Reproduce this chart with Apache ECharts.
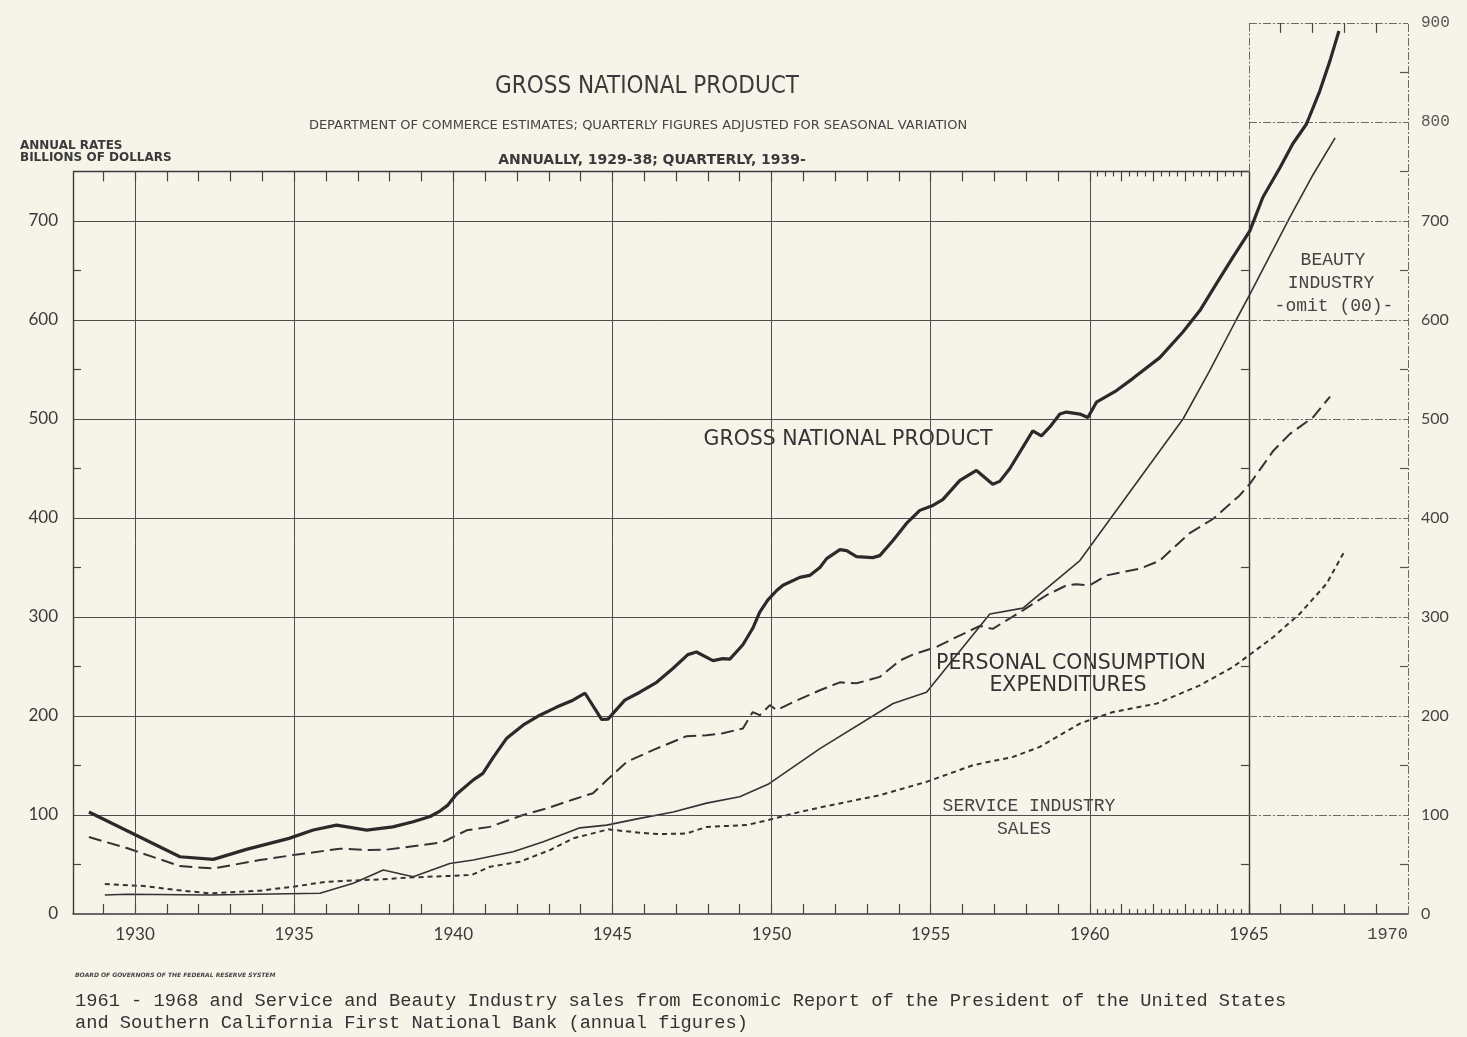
<!DOCTYPE html>
<html><head><meta charset="utf-8">
<script src="https://cdn.jsdelivr.net/npm/echarts@6/dist/echarts.min.js"></script>
<style>html,body{margin:0;padding:0;background:#f6f3e9}#c{width:1467px;height:1037px}</style>
</head><body><div id="c"></div>
<script>
// ---- data: [year as plotted, billions of dollars] ----
const gnpData = [[1928.55,103],[1929.94,81],[1931.41,57.8],[1932.46,55.2],[1933.5,65.3],[1934.84,76.4],[1935.6,84.8],[1936.33,89.8],[1937.28,84.8],[1938.1,88],[1938.74,93.2],[1939.27,98.5],[1939.58,104],[1939.83,110],[1940.1,121],[1940.63,135.5],[1940.93,142],[1941.25,158],[1941.68,177.6],[1942.19,190.7],[1942.72,200.8],[1943.25,209],[1943.76,216],[1944.14,223],[1944.66,196.5],[1944.86,196.8],[1945.39,216],[1945.86,224],[1946.39,234],[1946.9,248],[1947.37,262],[1947.64,264.6],[1948.16,256],[1948.47,258],[1948.69,257.5],[1949.1,272],[1949.41,288.6],[1949.63,305],[1949.88,317],[1950.17,327],[1950.36,332],[1950.89,340],[1951.2,342],[1951.52,350],[1951.73,359],[1952.15,368],[1952.36,367],[1952.67,361],[1953.18,360],[1953.4,362],[1953.81,377],[1954.24,394.5],[1954.66,407.7],[1955.07,412.7],[1955.38,418.5],[1955.92,438],[1956.44,448],[1956.95,434],[1957.17,437],[1957.49,450],[1958.21,488],[1958.48,483],[1958.74,491.7],[1959.06,505],[1959.27,507],[1959.69,505],[1959.94,501.5],[1960.21,517],[1960.84,528.7],[1961.35,540.8],[1962.2,562],[1962.92,587.6],[1963.46,609.5],[1963.98,636.7],[1964.49,663],[1965.03,690],[1965.44,724],[1965.98,754],[1966.38,778],[1966.81,798],[1967.23,831.5],[1967.55,862],[1967.83,892]];
const pceData = [[1928.55,77.7],[1929.74,66.6],[1931.41,48.4],[1932.46,46],[1933.92,54.5],[1934.97,59.5],[1936.44,66],[1937.28,64.6],[1937.9,65],[1939.58,72],[1939.79,74.5],[1940.42,84.5],[1941.15,88],[1942.19,100],[1942.93,106.6],[1943.77,115.7],[1944.39,122],[1944.82,135],[1945.45,153.7],[1946.27,165.5],[1947.33,179.6],[1947.96,180.6],[1948.47,182.6],[1949.1,187.4],[1949.41,204],[1949.63,200.8],[1949.95,211],[1950.16,206],[1950.68,214],[1951.52,226],[1952.15,234],[1952.67,233],[1953.4,239.5],[1954.03,256],[1954.44,262],[1955.2,270],[1955.7,278],[1956.55,291],[1956.95,288],[1957.9,306.7],[1958.64,322],[1959.27,332],[1959.58,333],[1960.0,332],[1960.53,342],[1961.6,349],[1962.2,357],[1963.14,384.8],[1963.87,399],[1964.71,422.8],[1965.03,434.5],[1965.77,468],[1966.29,485],[1967.02,501.8],[1967.55,522.7]];
const beautyData = [[1929.05,19.2],[1929.74,19.9],[1932.35,19.2],[1935.81,20.9],[1936.86,31],[1937.8,44.4],[1938.74,37.6],[1939.89,51],[1940.63,54.5],[1941.88,62.9],[1942.83,73],[1943.98,87],[1944.82,89.8],[1945.86,96.6],[1946.91,103],[1947.96,112],[1949.0,118.4],[1949.89,131],[1951.52,167],[1953.82,212.6],[1954.87,224],[1956.86,303],[1957.9,309],[1959.69,357],[1962.93,500],[1963.74,547],[1964.6,600],[1965.03,626],[1966.29,704],[1967.02,747],[1967.71,784]];
const serviceData = [[1929.05,30.3],[1930.26,28.3],[1931.31,24.2],[1932.35,20.9],[1933.92,23.5],[1934.97,27.6],[1936.02,32.6],[1937.7,35],[1938.74,37],[1939.89,38.5],[1940.58,39.4],[1941.15,47.7],[1942.09,52.8],[1943.04,64.6],[1943.77,76.4],[1944.87,85.5],[1945.86,82],[1946.49,80.7],[1947.33,81.3],[1947.96,88],[1949.22,89.8],[1949.89,94.9],[1950.68,101.5],[1951.52,107.6],[1953.4,120],[1954.87,133.5],[1956.34,150.4],[1957.59,158.7],[1958.43,168.8],[1959.69,192.4],[1960.73,204],[1962.1,212.5],[1963.46,231],[1964.5,249.5],[1964.93,259.6],[1965.77,279.8],[1966.6,303.3],[1967.44,333.6],[1967.99,365.6]];

// ---- tick labels ----
const xTickLabels = [1930,1935,1940,1945,1950,1955,1960,1965,1970];
const yLeftLabels = [0,100,200,300,400,500,600,700];
const yRightLabels = [0,100,200,300,400,500,600,700,800,900];
const yearTicks = [];
for (let y = 1929; y <= 1969; y++) yearTicks.push(y);
const quarterTicks = [];
for (let q = 1960.25; q < 1965; q += 0.25) if (q % 1 !== 0) quarterTicks.push(q);
const halfTicksLeft = [50,150,250,350,450,550,650];
const halfTicksRight = [50,150,250,350,450,550,650,750,850];

// ---- frame geometry (axis values) ----
const X_MIN = 1928.05, SPLIT = 1965, X_MAX = 1970, MAIN_TOP = 750, EXT_TOP = 900;

const INK = '#333';
const gridStyle = {color:'#4e4e4e', width:1, type:'solid'};
const frameStyle = {color:'#3a3a3a', width:1.4, type:'solid'};
const extStyle = {color:'#6a6a6a', width:1, type:[8,2,2,2]};
const tickStyle = {color:'#444', width:1.2, type:'solid'};

function seg(x1,y1,x2,y2,style){ return [{coord:[x1,y1], lineStyle:style},{coord:[x2,y2]}]; }
const frame = [];
yLeftLabels.filter(v => v > 0).forEach(v => frame.push(seg(X_MIN,v,SPLIT,v,gridStyle)));
xTickLabels.filter(v => v < SPLIT).forEach(v => frame.push(seg(v,0,v,MAIN_TOP,gridStyle)));
frame.push(seg(X_MIN,MAIN_TOP,SPLIT,MAIN_TOP,frameStyle));
frame.push(seg(X_MIN,0,X_MIN,MAIN_TOP,frameStyle));
frame.push(seg(SPLIT,0,SPLIT,MAIN_TOP,frameStyle));
frame.push(seg(SPLIT,MAIN_TOP,SPLIT,EXT_TOP,extStyle));
yRightLabels.filter(v => v > 0 && v < EXT_TOP).forEach(v => frame.push(seg(SPLIT,v,X_MAX,v,extStyle)));
frame.push(seg(SPLIT,EXT_TOP,X_MAX,EXT_TOP,extStyle));
frame.push(seg(X_MAX,0,X_MAX,EXT_TOP,extStyle));
// tick marks on the top of the main frame, on the 1965 edge and on the top of the extension
yearTicks.filter(y => y < SPLIT).forEach(y => frame.push(seg(y,MAIN_TOP,y,MAIN_TOP-10,tickStyle)));
quarterTicks.forEach(q => { frame.push(seg(q,MAIN_TOP,q,MAIN_TOP-5,tickStyle)); frame.push(seg(q,0,q,5,tickStyle)); });
halfTicksLeft.concat([750]).forEach(v => frame.push(seg(SPLIT-0.25,v,SPLIT,v,tickStyle)));
yearTicks.filter(y => y > SPLIT).forEach(y => frame.push(seg(y,EXT_TOP,y,EXT_TOP-10,tickStyle)));

const SANS = 'Lato, "DejaVu Sans", sans-serif';
const MONO = '"Liberation Mono", "DejaVu Sans Mono", monospace';

const chart = echarts.init(document.getElementById('c'), null, {renderer:'canvas'});
chart.setOption({
  backgroundColor:'#f6f3e9',
  animation:false,
  grid:{left:73, right:59, top:23, bottom:123, containLabel:false},
  xAxis:{
    type:'value', min:X_MIN, max:X_MAX,
    axisLine:{show:true, lineStyle:{color:'#3a3a3a', width:1.5}},
    splitLine:{show:false},
    axisTick:{show:true, inside:true, length:10, customValues:yearTicks, lineStyle:{color:'#444', width:1.2}},
    axisLabel:{customValues:xTickLabels, margin:12, color:'#3a3a3a', fontFamily:SANS, fontSize:17,
      alignMaxLabel:'right',
      formatter: v => v === 1970 ? '{tw|' + v + '}' : String(v),
      rich:{tw:{fontFamily:MONO, fontSize:17, color:'#444'}}}
  },
  yAxis:[{
    type:'value', min:0, max:EXT_TOP, position:'left',
    axisLine:{show:false}, splitLine:{show:false},
    axisTick:{show:true, inside:true, length:8, customValues:halfTicksLeft, lineStyle:{color:'#444', width:1.2}},
    axisLabel:{customValues:yLeftLabels, margin:15, color:'#3a3a3a', fontFamily:SANS, fontSize:17}
  },{
    type:'value', min:0, max:EXT_TOP, position:'right',
    axisLine:{show:false}, splitLine:{show:false},
    axisTick:{show:true, inside:true, length:8, customValues:halfTicksRight, lineStyle:{color:'#555', width:1.2}},
    axisLabel:{customValues:yRightLabels, margin:13, color:'#444', fontFamily:SANS, fontSize:16,
      formatter: v => v >= 800 ? '{tw|' + v + '}' : String(v),
      rich:{tw:{fontFamily:MONO, fontSize:16, color:'#555'}}}
  }],
  series:[
    {type:'line', name:'frame', data:[], silent:true,
     markLine:{silent:true, symbol:['none','none'], label:{show:false}, emphasis:{disabled:true}, animation:false, data:frame}},
    {type:'line', name:'Service Industry Sales', data:serviceData, symbol:'none', z:4,
     lineStyle:{color:INK, width:2, type:[5,4]}},
    {type:'line', name:'Beauty Industry', data:beautyData, symbol:'none', z:4,
     lineStyle:{color:INK, width:1.6}},
    {type:'line', name:'Personal Consumption Expenditures', data:pceData, symbol:'none', z:4,
     lineStyle:{color:INK, width:2, type:[13,6]}},
    {type:'line', name:'Gross National Product', data:gnpData, symbol:'none', z:5,
     lineStyle:{color:'#2a2a2a', width:3.2}}
  ],
  graphic:[
    {type:'text', x:647, y:87, style:{text:'GROSS NATIONAL PRODUCT', font:'24px "DejaVu Sans Condensed", "Liberation Sans Narrow", sans-serif', fill:'#3a3a3a', align:'center', verticalAlign:'middle'}},
    {type:'text', x:638, y:126, style:{text:'DEPARTMENT OF COMMERCE ESTIMATES; QUARTERLY FIGURES ADJUSTED FOR SEASONAL VARIATION', font:'13px "DejaVu Sans", sans-serif', fill:'#444', align:'center', verticalAlign:'middle'}},
    {type:'text', x:20, y:146, style:{text:'ANNUAL RATES', font:'bold 12px "DejaVu Sans", sans-serif', fill:'#3a3a3a', align:'left', verticalAlign:'middle'}},
    {type:'text', x:20, y:158, style:{text:'BILLIONS OF DOLLARS', font:'bold 12px "DejaVu Sans", sans-serif', fill:'#3a3a3a', align:'left', verticalAlign:'middle'}},
    {type:'text', x:652, y:160, style:{text:'ANNUALLY, 1929-38; QUARTERLY, 1939-', font:'bold 14px "DejaVu Sans", sans-serif', fill:'#3a3a3a', align:'center', verticalAlign:'middle'}},
    {type:'text', x:848, y:440, style:{text:'GROSS NATIONAL PRODUCT', font:'20.5px "DejaVu Sans", sans-serif', fill:'#333', align:'center', verticalAlign:'middle'}},
    {type:'text', x:1071, y:664, style:{text:'PERSONAL CONSUMPTION', font:'20.5px "DejaVu Sans", sans-serif', fill:'#333', align:'center', verticalAlign:'middle'}},
    {type:'text', x:1068, y:686, style:{text:'EXPENDITURES', font:'20.5px "DejaVu Sans", sans-serif', fill:'#333', align:'center', verticalAlign:'middle'}},
    {type:'text', x:1029, y:806, style:{text:'SERVICE INDUSTRY', font:'18px ' + MONO, fill:'#444', align:'center', verticalAlign:'middle'}},
    {type:'text', x:1024, y:829, style:{text:'SALES', font:'18px ' + MONO, fill:'#444', align:'center', verticalAlign:'middle'}},
    {type:'text', x:1333, y:260, style:{text:'BEAUTY', font:'18px ' + MONO, fill:'#444', align:'center', verticalAlign:'middle'}},
    {type:'text', x:1331, y:283, style:{text:'INDUSTRY', font:'18px ' + MONO, fill:'#444', align:'center', verticalAlign:'middle'}},
    {type:'text', x:1334, y:306, style:{text:'-omit (00)-', font:'18px ' + MONO, fill:'#444', align:'center', verticalAlign:'middle'}},
    {type:'text', x:75, y:975, style:{text:'BOARD OF GOVERNORS OF THE FEDERAL RESERVE SYSTEM', font:'italic bold 6px "DejaVu Sans", sans-serif', fill:'#444', align:'left', verticalAlign:'middle'}},
    {type:'text', x:75, y:1001, style:{text:'1961 - 1968 and Service and Beauty Industry sales from Economic Report of the President of the United States', font:'18.7px ' + MONO, fill:'#333', align:'left', verticalAlign:'middle'}},
    {type:'text', x:75, y:1023, style:{text:'and Southern California First National Bank (annual figures)', font:'18.7px ' + MONO, fill:'#333', align:'left', verticalAlign:'middle'}}
  ]
});
</script>
</body></html>
